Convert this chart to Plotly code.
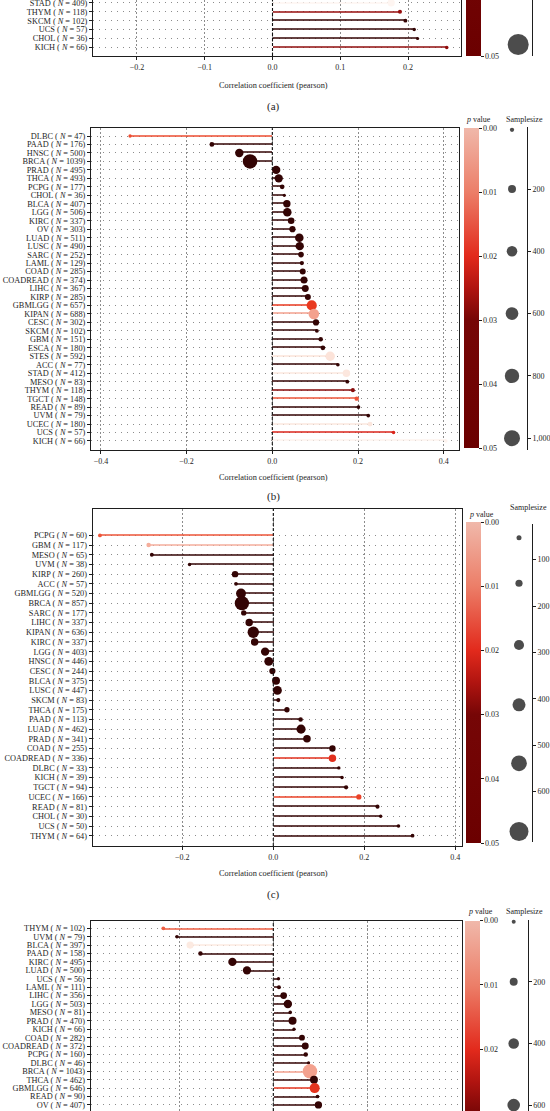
import plotly.graph_objects as go

W, H = 550, 1111

# ---------------- data ----------------
a_types = ["STAD", "THYM", "SKCM", "UCS", "CHOL", "KICH"]
a_n = [409, 118, 102, 57, 36, 66]
a_r = [0.175, 0.188, 0.196, 0.209, 0.214, 0.257]
a_p = [0.0002, 0.029, 0.048, 0.048, 0.048, 0.030]

b_types = ["DLBC", "PAAD", "HNSC", "BRCA", "PRAD", "THCA", "PCPG", "CHOL", "BLCA", "LGG",
           "KIRC", "OV", "LUAD", "LUSC", "SARC", "LAML", "COAD", "COADREAD", "LIHC", "KIRP",
           "GBMLGG", "KIPAN", "CESC", "SKCM", "GBM", "ESCA", "STES", "ACC", "STAD", "MESO",
           "THYM", "TGCT", "READ", "UVM", "UCEC", "UCS", "KICH"]
b_n = [47, 176, 500, 1039, 495, 493, 177, 36, 407, 506,
       337, 303, 511, 490, 252, 129, 285, 374, 367, 285,
       657, 688, 302, 102, 151, 180, 592, 77, 412, 83,
       118, 148, 89, 79, 180, 57, 66]
b_r = [-0.332, -0.141, -0.077, -0.052, 0.009, 0.015, 0.023, 0.028, 0.034, 0.035,
       0.044, 0.047, 0.063, 0.064, 0.067, 0.069, 0.071, 0.074, 0.077, 0.083,
       0.092, 0.097, 0.102, 0.104, 0.113, 0.118, 0.135, 0.153, 0.173, 0.175,
       0.188, 0.197, 0.201, 0.224, 0.228, 0.283, 0.405]
b_p = [0.014, 0.048, 0.048, 0.048, 0.048, 0.048, 0.048, 0.048, 0.048, 0.048,
       0.048, 0.048, 0.048, 0.048, 0.048, 0.048, 0.048, 0.048, 0.048, 0.048,
       0.016, 0.006, 0.048, 0.048, 0.048, 0.048, 0.0015, 0.048, 0.0012, 0.048,
       0.031, 0.013, 0.048, 0.048, 0.0012, 0.020, 0.0003]

c_types = ["PCPG", "GBM", "MESO", "UVM", "KIRP", "ACC", "GBMLGG", "BRCA", "SARC", "LIHC",
           "KIPAN", "KIRC", "LGG", "HNSC", "CESC", "BLCA", "LUSC", "SKCM", "THCA", "PAAD",
           "LUAD", "PRAD", "COAD", "COADREAD", "DLBC", "KICH", "TGCT", "UCEC", "READ", "CHOL",
           "UCS", "THYM"]
c_n = [60, 117, 65, 38, 260, 57, 520, 857, 177, 337,
       636, 337, 403, 446, 244, 375, 447, 83, 175, 113,
       462, 341, 255, 336, 33, 39, 94, 166, 81, 30,
       50, 64]
c_r = [-0.381, -0.274, -0.267, -0.184, -0.084, -0.082, -0.071, -0.069, -0.065, -0.053,
       -0.044, -0.041, -0.018, -0.010, -0.002, 0.006, 0.009, 0.011, 0.030, 0.060,
       0.061, 0.074, 0.130, 0.130, 0.144, 0.151, 0.160, 0.188, 0.229, 0.236,
       0.275, 0.306]
c_p = [0.013, 0.005, 0.048, 0.048, 0.048, 0.048, 0.048, 0.048, 0.048, 0.048,
       0.048, 0.048, 0.048, 0.048, 0.048, 0.048, 0.048, 0.048, 0.048, 0.048,
       0.048, 0.048, 0.048, 0.018, 0.048, 0.048, 0.048, 0.015, 0.048, 0.048,
       0.048, 0.048]

d_types = ["THYM", "UVM", "BLCA", "PAAD", "KIRC", "LUAD", "UCS", "LAML", "LIHC", "LGG",
           "MESO", "PRAD", "KICH", "COAD", "COADREAD", "PCPG", "DLBC", "BRCA", "THCA", "GBMLGG",
           "READ", "OV"]
d_n = [102, 79, 397, 158, 495, 500, 56, 111, 356, 503,
       81, 470, 66, 282, 372, 160, 46, 1043, 462, 646,
       90, 407]
d_r = [-0.234, -0.205, -0.177, -0.155, -0.087, -0.056, 0.011, 0.012, 0.022, 0.031,
       0.036, 0.041, 0.044, 0.061, 0.068, 0.069, 0.075, 0.078, 0.0865, 0.088,
       0.094, 0.096]
d_p = [0.012, 0.048, 0.001, 0.048, 0.048, 0.048, 0.048, 0.048, 0.048, 0.048,
       0.048, 0.048, 0.048, 0.048, 0.048, 0.048, 0.048, 0.006, 0.048, 0.017,
       0.048, 0.048]

p_ticks = [0.00, 0.01, 0.02, 0.03, 0.04, 0.05]

a_size_breaks = [1000]
b_size_breaks = [10, 200, 400, 600, 800, 1000]
c_size_breaks = [53, 151, 284, 413, 539, 686]
d_size_breaks = [6, 200, 400, 600]
a_size_ticks = []
b_size_ticks = [200, 400, 600, 800, 1000]
c_size_ticks = [100, 200, 300, 400, 500, 600]
d_size_ticks = [200, 400, 600]

x_title = "Correlation coefficient (pearson)"

# ---------------- style ----------------
FONT = "Liberation Serif, Times New Roman, serif"
INK = "#1e1e1e"
GRID = "#8c8c8c"
P_MAX = 0.05

dot_stops = [(0.000, "#FFF8F5"), (0.0005, "#FDF0EA"), (0.002, "#FBDDD0"), (0.005, "#F5AE9C"),
             (0.008, "#F08672"), (0.012, "#EE5E42"), (0.016, "#E9391F"), (0.021, "#D6201A"),
             (0.027, "#A51010"), (0.033, "#7A0A0A"), (0.040, "#4E0606"), (0.050, "#2C0303")]
bar_stops = [(0.000, "#F0B8AA"), (0.010, "#EC7E68"), (0.020, "#E22A1C"), (0.025, "#B01410"),
             (0.030, "#760606"), (0.050, "#6B0000")]

dot_cs = [[p / P_MAX, c] for p, c in dot_stops]
cb_cs = sorted([[1 - p / P_MAX, c] for p, c in bar_stops])


def lin_size(v, vmin, dmin, vmax, dmax):
    return dmin + (dmax - dmin) * (v - vmin) / (vmax - vmin)


def area_size(v, vmin, dmin, vmax, dmax):
    return (dmin ** 2 + (dmax ** 2 - dmin ** 2) * (v - vmin) / (vmax - vmin)) ** 0.5


panels = [
    dict(types=a_types, n=a_n, r=a_r, p=a_p, label="(a)",
         box=(93.0, 0.0, 461.2, 56.1), row0=2.8, step=8.92,
         zero_px=272.5, unit_px=678.0, xticks=[-0.2, -0.1, 0.0, 0.1, 0.2],
         top_line=False, bottom_axis=True, title_y=85.2, label_y=106.3,
         dot=(36, 1039, 3.2, 14.5),
         cb=(465.5, -268.0, 56.1), ptitle=None, stitle=None,
         leg_x=(504.0, 532.4), leg_y=(0.0, 56.1), v0=-267.0, vs=0.3115,
         breaks=a_size_breaks, sticks=a_size_ticks,
         leg=(area_size, 10, 4.3, 1000, 21.0)),
    dict(types=b_types, n=b_n, r=b_r, p=b_p, label="(b)",
         box=(91.0, 128.3, 459.3, 450.0), row0=136.0, step=8.472,
         zero_px=272.3, unit_px=428.5, xticks=[-0.4, -0.2, 0.0, 0.2, 0.4],
         top_line=True, bottom_axis=True, title_y=477.3, label_y=496.8,
         dot=(36, 1039, 3.2, 14.5),
         cb=(463.5, 128.3, 448.0), ptitle=(464.0, 120.0), stitle=(524.0, 120.0),
         leg_x=(497.0, 527.0), leg_y=(126.7, 450.0), v0=126.7, vs=0.3115,
         breaks=b_size_breaks, sticks=b_size_ticks,
         leg=(area_size, 10, 4.3, 1000, 16.0)),
    dict(types=c_types, n=c_n, r=c_r, p=c_p, label="(c)",
         box=(92.7, 509.0, 461.7, 846.0), row0=535.4, step=9.687,
         zero_px=273.3, unit_px=455.0, xticks=[-0.2, 0.0, 0.2, 0.4],
         top_line=True, bottom_axis=True, title_y=873.3, label_y=894.0,
         dot=(30, 857, 3.4, 14.3),
         cb=(466.0, 522.0, 843.3), ptitle=(467.0, 514.0), stitle=(528.0, 507.0),
         leg_x=(506.0, 532.0), leg_y=(524.0, 842.0), v0=513.2, vs=0.464,
         breaks=c_size_breaks, sticks=c_size_ticks,
         leg=(lin_size, 53, 5.0, 686, 19.0)),
    dict(types=d_types, n=d_n, r=d_r, p=d_p, label=None,
         box=(90.7, 920.5, 461.7, 1111.0), row0=928.3, step=8.41,
         zero_px=273.3, unit_px=470.0, xticks=[-0.4, -0.2, 0.0, 0.2, 0.4],
         top_line=True, bottom_axis=False, title_y=None, label_y=None,
         dot=(46, 1043, 3.2, 14.5),
         cb=(465.0, 920.5, 1242.0), ptitle=(465.5, 911.7), stitle=(524.5, 911.7),
         leg_x=(499.7, 527.7), leg_y=(920.0, 1111.0), v0=920.0, vs=0.3085,
         breaks=d_size_breaks, sticks=d_size_ticks,
         leg=(area_size, 6, 4.0, 1000, 16.0)),
]

fig = go.Figure()
axes = {}
shapes = []
annotations = []


def suf(k):
    return "" if k == 1 else str(k)


tickfont = dict(family=FONT, size=8, color=INK)
ylabfont = dict(family=FONT, size=8.3, color=INK)

for i, P in enumerate(panels):
    km, kl = 2 * i + 1, 2 * i + 2
    xm, ym, xl, yl = "x" + suf(km), "y" + suf(km), "x" + suf(kl), "y" + suf(kl)
    L, T, R, B = P["box"]
    xr = [(L - P["zero_px"]) / P["unit_px"], (R - P["zero_px"]) / P["unit_px"]]
    yr = [(B - P["row0"]) / P["step"], (T - P["row0"]) / P["step"]]
    labels = [f"{t} ( <i>N</i> = {v})" for t, v in zip(P["types"], P["n"])]
    nmin, nmax, smin, smax = P["dot"]
    sizes = [lin_size(v, nmin, smin, nmax, smax) for v in P["n"]]

    fig.add_trace(go.Bar(orientation="h", x=P["r"], y=P["types"], width=1.4 / P["step"],
                         marker=dict(color=P["p"], colorscale=dot_cs, cmin=0, cmax=P_MAX,
                                     line=dict(width=0)),
                         opacity=0.75, xaxis=xm, yaxis=ym, showlegend=False, hoverinfo="skip"))
    fig.add_trace(go.Scatter(x=P["r"], y=P["types"], mode="markers",
                             marker=dict(size=sizes, color=P["p"], colorscale=dot_cs, cmin=0,
                                         cmax=P_MAX, line=dict(width=0), opacity=1),
                             xaxis=xm, yaxis=ym, showlegend=False, hoverinfo="skip"))
    cbL, cbT, cbB = P["cb"]
    fig.add_trace(go.Scatter(
        x=[P["r"][0]] * 2, y=[P["types"][0]] * 2, mode="markers",
        marker=dict(size=1, opacity=0, color=[0, P_MAX], colorscale=cb_cs, cmin=0, cmax=P_MAX,
                    showscale=True,
                    colorbar=dict(x=cbL / W, xanchor="left", xpad=0, y=1 - cbT / H,
                                  yanchor="top", ypad=0, len=cbB - cbT, lenmode="pixels",
                                  thickness=15, thicknessmode="pixels", outlinewidth=0,
                                  ticks="outside", ticklen=3, tickwidth=1, tickcolor=INK,
                                  tickvals=[P_MAX - t for t in p_ticks],
                                  ticktext=[f"{t:.2f}" for t in p_ticks],
                                  tickfont=tickfont)),
        xaxis=xm, yaxis=ym, showlegend=False, hoverinfo="skip"))

    f, vmin, dmin, vmax, dmax = P["leg"]
    fig.add_trace(go.Scatter(x=[0] * len(P["breaks"]), y=P["breaks"], mode="markers",
                             marker=dict(size=[f(v, vmin, dmin, vmax, dmax) for v in P["breaks"]],
                                         color="black", line=dict(width=0)),
                             xaxis=xl, yaxis=yl, showlegend=False, hoverinfo="skip",
                             cliponaxis=False))

    bottom = P["bottom_axis"]
    axes["xaxis" + suf(km)] = dict(
        domain=[L / W, R / W], range=xr, anchor=ym, tickvals=P["xticks"], tickformat=".1f",
        ticks="outside" if bottom else "", ticklen=3, tickcolor=INK, tickwidth=1,
        showticklabels=bottom, showline=True, linecolor=INK, linewidth=1,
        mirror=bool(P["top_line"] and bottom), side="bottom" if bottom else "top",
        showgrid=True, gridcolor=GRID, griddash="2px,2px", gridwidth=0.8, zeroline=False,
        tickfont=tickfont, automargin=False)
    axes["yaxis" + suf(km)] = dict(
        domain=[1 - B / H, 1 - T / H], range=yr, anchor=xm, type="category",
        categoryorder="array", categoryarray=P["types"], tickvals=P["types"], ticktext=labels,
        ticks="outside", ticklen=3, tickcolor=INK, tickwidth=1, showline=True, linecolor=INK,
        linewidth=1, mirror=True, showgrid=True, gridcolor=GRID, griddash="1px,5px",
        gridwidth=0.8, zeroline=False, tickfont=ylabfont, automargin=False)

    lx0, lx1 = P["leg_x"]
    ly0, ly1 = P["leg_y"]
    axes["xaxis" + suf(kl)] = dict(domain=[lx0 / W, lx1 / W], range=[-1, 1], visible=False,
                                   anchor=yl, fixedrange=True)
    axes["yaxis" + suf(kl)] = dict(
        domain=[1 - ly1 / H, 1 - ly0 / H],
        range=[(ly1 - P["v0"]) / P["vs"], (ly0 - P["v0"]) / P["vs"]],
        anchor=xl, side="right", showline=True, linecolor=INK, linewidth=1, ticks="outside",
        ticklen=3, tickcolor=INK, tickvals=P["sticks"], tickformat=",d", showgrid=False,
        zeroline=False, tickfont=tickfont, automargin=False)

    shapes.append(dict(type="line", xref=xm, yref=ym + " domain", x0=0, x1=0, y0=0, y1=1,
                       line=dict(color="#111111", width=1.1, dash="3px,2px"), layer="above"))

    if P["title_y"] is not None:
        annotations.append(dict(x=273 / W, y=1 - P["title_y"] / H, xref="paper", yref="paper",
                                text=x_title, showarrow=False, xanchor="center",
                                yanchor="middle", font=dict(family=FONT, size=8.3, color=INK)))
    if P["label_y"] is not None:
        annotations.append(dict(x=273 / W, y=1 - P["label_y"] / H, xref="paper", yref="paper",
                                text=P["label"], showarrow=False, xanchor="center",
                                yanchor="middle", font=dict(family=FONT, size=11, color=INK)))
    if P["ptitle"] is not None:
        px_, py_ = P["ptitle"]
        annotations.append(dict(x=px_ / W, y=1 - py_ / H, xref="paper", yref="paper",
                                text="<i>p</i> value", showarrow=False, xanchor="left",
                                yanchor="middle", font=dict(family=FONT, size=8, color=INK)))
    if P["stitle"] is not None:
        sx_, sy_ = P["stitle"]
        annotations.append(dict(x=sx_ / W, y=1 - sy_ / H, xref="paper", yref="paper",
                                text="Samplesize", showarrow=False, xanchor="center",
                                yanchor="middle", font=dict(family=FONT, size=8, color=INK)))

fig.update_layout(
    template="none", width=W, height=H, autosize=False,
    margin=dict(l=0, r=0, t=0, b=0, pad=0, autoexpand=False),
    paper_bgcolor="white", plot_bgcolor="white",
    font=dict(family=FONT, size=8, color=INK),
    showlegend=False, bargap=0, shapes=shapes, annotations=annotations, **axes)

fig.write_html("out.html", config={"displayModeBar": False},
               post_script="document.body.style.margin='0';document.body.style.overflow='hidden';")
